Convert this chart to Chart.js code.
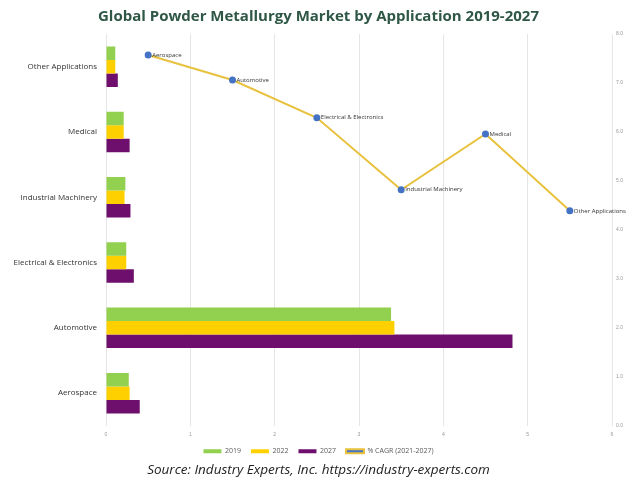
<!DOCTYPE html>
<html>
<head>
<meta charset="utf-8">
<script src="https://cdn.jsdelivr.net/npm/chart.js@4.4.0/dist/chart.umd.min.js"></script>
<style>
  html, body { margin: 0; padding: 0; background: #fff; }
  #wrap { width: 631px; height: 478px; }
</style>
</head>
<body>
<div id="wrap"><canvas id="chart" width="631" height="478"></canvas></div>
<script>
// Applications in legend/line order (Aerospace first)
const applications = ['Aerospace', 'Automotive', 'Electrical & Electronics', 'Industrial Machinery', 'Medical', 'Other Applications'];

// Market size per application
const values2019 = [0.27, 3.38, 0.24, 0.23, 0.21, 0.11];
const values2022 = [0.28, 3.42, 0.24, 0.22, 0.21, 0.11];
const values2027 = [0.40, 4.82, 0.33, 0.29, 0.28, 0.14];

// % CAGR (2021-2027)
const cagrValues = [7.57, 7.06, 6.29, 4.82, 5.96, 4.39];

const barTicks = [0, 1, 2, 3, 4, 5, 6];
const cagrTicks = [0, 1, 2, 3, 4, 5, 6, 7, 8];

// bars are drawn top-to-bottom from "Other Applications" down to "Aerospace"
const barLabels = applications.slice().reverse();
const rev = arr => arr.slice().reverse();

const colors = {
  green: '#92D050',
  yellow: '#FFD000',
  purple: '#6E0F6E',
  line: '#E8C23E',
  point: '#4472C4',
  grid: '#E6E6E6',
  text: '#595959'
};

// Chart.js 4.4 splits bar groups by the axis id of every dataset, the CAGR line
// sits on its own axes so it would halve the bars - keep them as one group
if (typeof Chart.BarController.prototype._getAxisCount === 'function') {
  Chart.BarController.prototype._getAxisCount = function () { return 1; };
}

// draws the application name next to each CAGR point
const pointLabels = {
  id: 'pointLabels',
  afterDatasetsDraw(chart) {
    const meta = chart.getDatasetMeta(3);
    const ctx = chart.ctx;
    ctx.save();
    ctx.font = '6px "Open Sans", sans-serif';
    ctx.fillStyle = '#333';
    ctx.textBaseline = 'middle';
    ctx.textAlign = 'left';
    meta.data.forEach((pt, i) => {
      ctx.fillText(applications[i], pt.x + 4, pt.y);
    });
    ctx.restore();
  }
};

const barOpts = { xAxisID: 'x', yAxisID: 'y', categoryPercentage: 0.62, barPercentage: 1 };

const ctx = document.getElementById('chart').getContext('2d');
new Chart(ctx, {
  type: 'bar',
  data: {
    labels: barLabels,
    datasets: [
      { label: '2019', data: rev(values2019), backgroundColor: colors.green, ...barOpts },
      { label: '2022', data: rev(values2022), backgroundColor: colors.yellow, ...barOpts },
      { label: '2027', data: rev(values2027), backgroundColor: colors.purple, ...barOpts },
      {
        label: '% CAGR (2021-2027)',
        type: 'line',
        indexAxis: 'x',
        data: cagrValues,
        borderColor: colors.line,
        backgroundColor: colors.point,
        borderWidth: 2,
        pointRadius: 2.5,
        pointBackgroundColor: colors.point,
        pointBorderColor: colors.point,
        tension: 0,
        xAxisID: 'x2',
        yAxisID: 'y2'
      }
    ]
  },
  options: {
    indexAxis: 'y',
    responsive: false,
    animation: false,
    layout: { padding: { left: 6, right: 0, top: 8, bottom: 0 } },
    plugins: {
      title: {
        display: true,
        text: 'Global Powder Metallurgy Market by Application 2019-2027',
        color: '#2F5746',
        font: { family: '"Open Sans", sans-serif', size: 15, weight: 'bold' },
        padding: { top: 0, bottom: 8 }
      },
      subtitle: {
        display: true,
        position: 'bottom',
        text: 'Source: Industry Experts, Inc. https://industry-experts.com',
        color: '#222',
        font: { family: '"Open Sans", sans-serif', size: 13.5, style: 'italic' },
        padding: { top: 0, bottom: 0 }
      },
      legend: {
        position: 'bottom',
        maxHeight: 24,
        labels: {
          color: colors.text,
          boxWidth: 18,
          boxHeight: 4,
          padding: 10,
          font: { family: '"Open Sans", sans-serif', size: 7 },
          sort: (a, b) => a.datasetIndex - b.datasetIndex
        }
      },
      tooltip: { enabled: false }
    },
    scales: {
      x: {
        type: 'linear',
        position: 'bottom',
        min: 0,
        max: 6,
        afterBuildTicks: axis => { axis.ticks = barTicks.map(v => ({ value: v })); },
        grid: { color: colors.grid, drawTicks: false },
        border: { display: false },
        ticks: { color: '#999', font: { size: 5 }, padding: 6 },
        afterFit: axis => { axis.height = 12; }
      },
      y: {
        type: 'category',
        position: 'left',
        grid: { display: false, drawTicks: false },
        border: { color: colors.grid },
        ticks: { color: '#333', font: { family: '"Open Sans", sans-serif', size: 8 }, padding: 9 },
        afterFit: axis => { axis.width = 100; }
      },
      x2: {
        type: 'category',
        position: 'top',
        labels: applications,
        offset: true,
        display: false
      },
      y2: {
        type: 'linear',
        position: 'right',
        offset: false,
        min: 0,
        max: 8,
        afterBuildTicks: axis => { axis.ticks = cagrTicks.map(v => ({ value: v })); },
        grid: { display: false, drawTicks: false, offset: false },
        border: { color: colors.grid },
        ticks: {
          color: '#999',
          font: { size: 5 },
          padding: 4,
          callback: v => v.toFixed(1)
        },
        afterFit: axis => { axis.width = 19; }
      }
    }
  },
  plugins: [pointLabels]
});
</script>
</body>
</html>
